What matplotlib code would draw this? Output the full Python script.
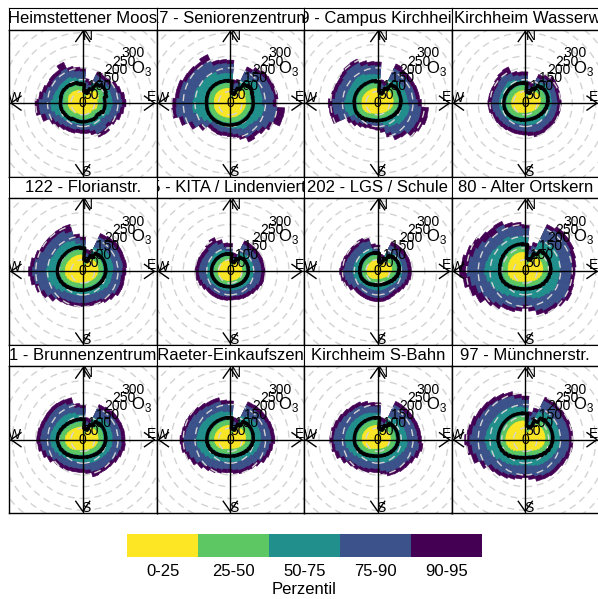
import numpy as np
import matplotlib
matplotlib.use("Agg")
import matplotlib.pyplot as plt
from matplotlib.patches import Wedge, Circle

plt.rcParams["font.family"] = ["Liberation Sans", "DejaVu Sans"]
plt.rcParams["mathtext.fontset"] = "custom"
plt.rcParams["mathtext.rm"] = "Liberation Sans"

# wind direction bins (deg, clockwise from north)
DIRS = list(range(0, 360, 10))
PERC_LABELS = ["0-25", "25-50", "50-75", "75-90", "90-95"]
PERC_COLORS = ["#FDE725", "#5DC863", "#21908C", "#3B528B", "#440154"]
RINGS = [50, 100, 150, 200, 250, 300, 350, 400]
RLABELS = [0, 50, 100, 150, 200, 250, 300]

TITLES = ["Heimstettener Moos", "17 - Seniorenzentrum", "19 - Campus Kirchheim",
          "Kirchheim Wasserwerk", "122 - Florianstr.", "15 - KITA / Lindenviertel",
          "202 - LGS / Schule", "80 - Alter Ortskern", "1 - Brunnenzentrum",
          "33 - Raeter-Einkaufszentrum", "Kirchheim S-Bahn", "97 - Münchnerstr."]

# --- Heimstettener Moos
HEIM_P25 = [47,28,25,38,66,74,74,70,62,62,62,62,54,48,52,50,48,48,48,48,47,47,53,55,57,60,62,62,62,64,66,64,63,59,58,52]
HEIM_P50 = [68,40,36,56,88,96,96,92,83,83,83,82,74,68,72,70,68,68,68,68,67,67,74,76,78,82,83,83,83,85,86,85,84,80,79,72]
HEIM_P75 = [101,64,58,95,110,116,123,124,124,126,122,119,109,101,108,107,96,91,91,90,92,93,99,104,110,124,135,136,128,125,121,122,121,122,113,105]
HEIM_P90 = [133,88,80,132,130,133,147,153,163,167,160,153,142,133,142,143,123,113,112,111,116,117,122,131,140,164,185,186,171,162,154,157,156,162,145,137]
HEIM_P95 = [150,105,95,150,147,150,164,170,180,184,177,170,159,150,162,160,140,130,129,128,133,134,139,148,157,184,203,203,188,179,171,174,173,192,162,154]
HEIM_MEAN = [80,50,45,68,101,110,110,105,95,95,95,95,86,80,84,82,80,80,80,80,79,79,86,88,90,94,95,96,95,98,99,97,96,92,91,84]

# --- Seniorenzentrum
SENI_P25 = [62,25,22,40,67,75,72,67,65,65,65,64,62,62,61,61,61,60,61,61,62,63,65,67,68,69,68,68,69,70,71,70,69,67,65,64]
SENI_P50 = [83,36,32,58,88,96,93,88,86,86,86,85,83,83,82,82,82,81,82,82,83,84,86,88,89,90,89,89,90,91,92,91,90,88,86,85]
SENI_P75 = [125,59,59,106,129,138,138,136,137,134,144,142,134,126,121,122,113,108,105,103,105,104,104,119,134,150,161,159,155,155,150,148,145,145,130,128]
SENI_P90 = [166,83,88,153,168,178,181,183,187,180,200,198,183,168,158,160,143,133,126,123,126,123,121,148,178,208,232,228,218,217,206,204,199,200,173,170]
SENI_P95 = [183,100,105,170,185,195,198,200,204,197,233,231,200,185,175,183,160,150,143,140,143,140,138,165,195,225,250,245,235,234,223,221,216,228,190,187]
SENI_MEAN = [95,45,40,70,100,108,105,100,98,98,98,97,95,95,94,94,94,93,94,94,95,96,98,100,101,102,101,101,102,103,104,103,102,100,98,97]

# --- Campus Kirchheim
CAMP_P25 = [59,26,22,40,65,69,69,67,67,65,63,60,55,51,48,46,44,43,43,44,46,49,55,60,64,67,67,67,68,68,67,66,65,64,64,63]
CAMP_P50 = [80,38,33,58,86,90,90,88,88,86,84,81,76,72,68,66,64,63,63,64,66,70,76,81,85,88,88,88,89,89,88,87,86,85,85,84]
CAMP_P75 = [120,60,55,111,123,125,125,125,126,128,135,134,130,127,115,112,99,86,81,80,81,86,93,102,109,132,140,141,137,135,133,135,138,137,128,123]
CAMP_P90 = [158,83,78,162,159,159,159,161,162,169,185,186,182,180,160,156,133,108,98,95,95,101,109,121,132,175,190,193,183,179,176,182,188,188,170,161]
CAMP_P95 = [175,100,95,184,176,176,176,178,179,186,217,219,210,203,177,173,150,125,115,112,112,118,126,138,149,206,208,211,200,196,193,199,205,207,187,178]
CAMP_MEAN = [92,48,42,70,98,102,102,100,100,98,96,93,88,84,80,78,76,75,75,76,78,82,88,93,97,100,100,100,101,101,100,99,98,97,97,96]

# --- Kirchheim Wasserwerk
WASS_P25 = [52,27,25,40,59,65,67,67,65,63,59,55,51,47,44,42,40,40,40,41,42,45,49,52,55,57,58,58,58,58,57,57,56,56,55,54]
WASS_P50 = [73,38,35,58,80,86,88,88,86,84,80,76,72,68,65,62,60,60,60,61,63,66,70,73,76,78,79,79,79,79,78,78,77,77,76,75]
WASS_P75 = [95,56,53,89,107,115,114,113,111,111,108,106,103,100,97,97,95,92,90,90,92,93,97,100,103,107,110,111,110,110,109,111,114,109,100,97]
WASS_P90 = [116,75,71,118,132,142,139,136,135,136,135,134,133,130,128,131,128,123,119,118,119,119,123,126,129,135,140,142,140,139,138,143,149,140,123,117]
WASS_P95 = [133,92,88,135,149,159,156,153,152,153,152,151,150,147,145,148,149,140,136,135,136,136,140,143,146,152,157,159,157,156,155,160,166,170,140,134]
WASS_MEAN = [85,48,45,70,92,98,100,100,98,96,92,88,84,80,77,74,72,72,72,73,75,78,82,85,88,90,91,91,91,91,90,90,89,89,88,87]

# --- Florianstr.
FLOR_P25 = [67,28,24,45,62,66,67,67,66,65,63,60,57,54,51,49,47,47,47,48,50,53,57,62,67,71,74,75,75,75,74,73,73,72,72,71]
FLOR_P50 = [88,40,35,63,83,87,88,88,87,86,84,81,78,75,72,70,68,68,68,69,71,74,78,83,88,92,95,96,96,96,95,94,94,93,93,92]
FLOR_P75 = [110,59,55,113,125,129,130,129,130,127,124,124,122,115,109,104,101,101,101,103,104,107,111,124,135,144,152,156,152,146,141,141,141,141,135,118]
FLOR_P90 = [131,78,75,161,166,170,170,169,171,167,163,165,164,153,145,137,133,133,133,135,136,139,143,163,181,194,207,214,207,195,186,186,186,188,175,143]
FLOR_P95 = [148,95,92,178,183,187,187,186,188,184,180,182,181,170,162,154,150,150,150,152,153,156,160,180,198,211,224,231,224,212,203,203,203,205,207,160]
FLOR_MEAN = [100,50,45,75,95,99,100,100,99,98,96,93,90,87,84,82,80,80,80,81,83,86,90,95,100,104,107,108,108,108,107,106,106,105,105,104]

# --- KITA / Lindenviertel
KITA_P25 = [48,22,21,35,47,50,51,51,50,50,49,47,45,43,42,40,39,39,39,40,41,42,45,47,49,51,52,52,52,52,51,51,50,50,49,48]
KITA_P50 = [64,33,31,49,63,66,67,67,66,66,65,63,61,59,57,55,54,54,54,55,56,58,61,63,65,67,69,69,69,69,68,68,67,67,66,65]
KITA_P75 = [83,47,45,88,95,97,98,99,99,99,98,97,92,89,85,83,81,80,80,81,83,84,86,87,92,96,100,101,100,99,97,97,100,101,95,85]
KITA_P90 = [102,63,61,127,127,127,129,130,131,131,130,130,123,118,113,111,108,105,105,107,109,110,111,111,118,125,131,133,131,129,126,125,133,135,123,105]
KITA_P95 = [119,80,78,144,144,144,146,147,148,148,147,147,140,135,130,128,125,122,122,124,126,127,128,128,135,142,148,150,148,146,143,142,150,159,140,122]
KITA_MEAN = [75,42,40,60,74,77,78,78,77,77,76,74,72,70,68,66,65,65,65,66,67,69,72,74,76,78,80,80,80,80,79,79,78,78,77,76]

# --- LGS / Schule
LGS_P25 = [48,21,20,35,52,57,60,61,60,57,53,48,43,38,35,33,32,31,31,32,33,35,37,40,42,44,45,46,46,47,48,48,48,49,49,48]
LGS_P50 = [66,31,29,51,72,78,81,82,81,78,74,68,62,56,52,49,47,46,46,47,48,51,54,57,60,63,64,65,65,66,67,68,68,69,69,68]
LGS_P75 = [81,44,41,87,98,102,104,105,104,103,101,95,89,83,79,79,79,80,80,80,80,81,82,84,92,100,103,106,104,103,102,102,101,104,102,85]
LGS_P90 = [95,58,55,122,123,124,125,126,126,126,126,121,115,109,105,107,110,112,112,111,110,109,109,109,123,135,141,145,141,138,135,134,133,138,133,101]
LGS_P95 = [112,75,72,139,140,141,142,143,143,143,143,138,132,126,122,124,127,129,129,128,127,126,126,126,140,152,158,162,158,155,152,151,150,155,150,118]
LGS_MEAN = [78,40,38,62,84,90,93,94,93,90,86,80,74,68,64,61,59,58,58,59,60,63,66,69,72,75,76,77,77,78,79,80,80,81,81,80]

# --- Alter Ortskern
ALTO_P25 = [80,30,28,52,74,78,78,77,76,74,70,66,61,56,51,47,44,42,42,43,45,48,53,58,64,69,72,73,74,76,78,80,82,83,83,82]
ALTO_P50 = [101,44,42,72,95,99,99,98,97,95,91,87,82,77,72,68,65,63,63,64,66,70,75,81,87,92,95,96,97,99,101,103,105,106,106,105]
ALTO_P75 = [144,69,76,139,155,157,156,153,150,146,143,143,143,136,129,126,119,109,102,109,114,117,128,137,146,156,166,173,171,166,163,157,154,163,154,150]
ALTO_P90 = [183,93,111,203,212,213,211,205,200,195,193,197,201,193,183,182,172,153,140,153,161,163,178,191,203,218,235,248,242,231,222,208,201,218,199,193]
ALTO_P95 = [200,110,128,220,232,230,228,222,217,212,210,214,218,210,200,201,191,170,157,170,178,180,195,208,233,248,265,279,272,261,252,238,231,235,216,210]
ALTO_MEAN = [115,55,52,85,108,112,112,111,110,108,104,100,95,90,85,80,77,75,75,76,78,82,88,94,100,105,108,109,110,112,114,116,118,119,119,118]

# --- Brunnenzentrum
BRUN_P25 = [54,25,22,42,62,66,67,67,66,65,63,60,57,53,49,46,44,42,42,43,45,49,54,60,65,70,73,75,74,71,67,63,60,57,56,55]
BRUN_P50 = [75,37,33,60,83,87,88,88,87,86,84,81,78,74,70,67,65,63,63,64,66,70,75,81,86,91,94,96,95,92,88,84,81,78,77,76]
BRUN_P75 = [105,58,54,105,119,123,124,125,126,125,125,121,116,111,108,106,103,96,94,94,96,100,105,109,119,128,135,138,137,133,130,129,128,125,119,108]
BRUN_P90 = [133,78,75,148,153,158,159,161,163,163,165,159,153,146,144,143,140,128,123,123,125,129,133,136,151,164,175,179,177,173,171,172,173,171,160,138]
BRUN_P95 = [150,95,92,165,170,175,176,178,180,180,182,176,170,163,161,160,164,145,140,140,142,146,150,153,168,181,192,196,194,190,188,189,190,188,185,155]
BRUN_MEAN = [87,48,44,72,95,99,100,100,99,98,96,93,90,86,82,79,77,75,75,76,78,82,87,93,98,103,106,108,107,104,100,96,93,90,89,88]

# --- Raeter-Einkaufszentrum
RAET_P25 = [61,25,22,42,63,66,67,67,66,65,62,58,53,48,44,41,39,37,37,38,40,44,49,54,59,63,66,67,67,67,66,65,64,63,62,62]
RAET_P50 = [82,37,33,60,84,87,88,88,87,86,83,79,74,69,65,62,60,58,58,59,61,65,70,75,80,84,87,88,88,88,87,86,85,84,83,83]
RAET_P75 = [116,58,54,111,124,126,128,129,130,130,125,121,115,107,101,98,97,94,91,93,97,102,108,116,126,134,141,143,140,139,137,133,130,127,126,119]
RAET_P90 = [148,78,75,161,163,164,166,169,171,173,166,161,155,143,136,133,133,128,123,125,131,138,145,156,171,183,193,197,191,188,185,179,173,168,168,153]
RAET_P95 = [165,95,92,178,180,181,183,186,188,190,183,178,172,160,153,150,150,145,140,142,148,155,162,173,188,200,210,214,208,205,202,196,190,185,185,170]
RAET_MEAN = [94,48,44,72,96,99,100,100,99,98,95,91,86,81,77,74,72,70,70,71,73,77,82,87,92,96,99,100,100,100,99,98,97,96,95,95]

# --- Kirchheim S-Bahn
SBAH_P25 = [61,25,22,38,53,55,55,55,54,54,53,51,48,45,42,40,38,37,37,38,40,44,49,54,59,63,66,67,67,67,66,65,64,63,62,62]
SBAH_P50 = [82,36,32,56,74,76,76,76,75,75,74,72,69,66,63,61,59,58,58,59,61,65,70,75,80,84,87,88,88,88,87,86,85,84,83,83]
SBAH_P75 = [112,58,54,110,119,120,120,121,122,123,126,121,114,109,107,104,102,96,91,92,95,100,105,110,120,129,136,138,137,134,131,128,125,123,119,114]
SBAH_P90 = [140,78,75,163,162,162,163,165,167,169,176,168,158,151,149,145,143,133,123,123,128,133,138,143,158,173,183,187,185,179,173,168,163,161,153,143]
SBAH_P95 = [157,95,92,180,179,179,180,182,184,186,193,185,175,168,166,162,160,150,140,140,145,150,155,160,175,190,200,204,202,196,190,185,180,178,170,160]
SBAH_MEAN = [94,48,44,68,86,88,88,88,87,87,86,84,81,78,75,73,71,70,70,71,73,77,82,87,92,96,99,100,100,100,99,98,97,96,95,95]

# --- Muenchnerstr.
MUEN_P25 = [79,32,30,57,79,84,85,85,85,84,81,77,71,64,57,52,47,44,44,45,48,53,60,67,73,78,81,83,83,83,83,83,83,83,82,81]
MUEN_P50 = [100,46,43,78,100,105,106,106,106,105,102,98,92,85,78,73,68,65,65,66,69,74,81,88,94,99,102,104,104,104,104,104,104,104,103,102]
MUEN_P75 = [135,75,84,131,142,145,145,146,147,146,145,140,134,129,125,121,115,110,106,109,114,120,127,133,147,158,166,171,167,163,159,157,155,152,149,141]
MUEN_P90 = [169,103,123,183,183,183,183,185,186,186,186,181,175,171,171,168,160,153,145,151,158,165,171,177,198,216,228,236,228,220,213,209,205,199,193,178]
MUEN_P95 = [186,120,140,200,200,200,200,202,203,203,203,198,192,188,188,185,183,170,162,168,175,182,188,194,215,238,250,258,249,240,232,228,224,218,212,195]
MUEN_MEAN = [112,58,55,90,112,117,118,118,118,117,114,110,104,97,90,85,80,77,77,78,81,86,93,100,106,111,114,116,116,116,116,116,116,116,115,114]

STATIONS = [
    (HEIM_P25, HEIM_P50, HEIM_P75, HEIM_P90, HEIM_P95, HEIM_MEAN),
    (SENI_P25, SENI_P50, SENI_P75, SENI_P90, SENI_P95, SENI_MEAN),
    (CAMP_P25, CAMP_P50, CAMP_P75, CAMP_P90, CAMP_P95, CAMP_MEAN),
    (WASS_P25, WASS_P50, WASS_P75, WASS_P90, WASS_P95, WASS_MEAN),
    (FLOR_P25, FLOR_P50, FLOR_P75, FLOR_P90, FLOR_P95, FLOR_MEAN),
    (KITA_P25, KITA_P50, KITA_P75, KITA_P90, KITA_P95, KITA_MEAN),
    (LGS_P25, LGS_P50, LGS_P75, LGS_P90, LGS_P95, LGS_MEAN),
    (ALTO_P25, ALTO_P50, ALTO_P75, ALTO_P90, ALTO_P95, ALTO_MEAN),
    (BRUN_P25, BRUN_P50, BRUN_P75, BRUN_P90, BRUN_P95, BRUN_MEAN),
    (RAET_P25, RAET_P50, RAET_P75, RAET_P90, RAET_P95, RAET_MEAN),
    (SBAH_P25, SBAH_P50, SBAH_P75, SBAH_P90, SBAH_P95, SBAH_MEAN),
    (MUEN_P25, MUEN_P50, MUEN_P75, MUEN_P90, MUEN_P95, MUEN_MEAN),
]

W, H = 598, 599
PX = 0.235            # pixels per concentration unit
fig = plt.figure(figsize=(W / 100, H / 100), dpi=100)


def fax(x0, y0, w, h):
    """axes from pixel box (top-left origin)"""
    return fig.add_axes([x0 / W, 1 - (y0 + h) / H, w / W, h / H])


def rose(ax, data, hw, hh):
    p25, p50, p75, p90, p95, mean = data
    u = 1 / PX
    ax.set_xlim(-hw * u, hw * u)
    ax.set_ylim(-hh * u, hh * u)
    # percentile sectors, outer band first
    for vals, col in zip([p95, p90, p75, p50, p25], PERC_COLORS[::-1]):
        for d, r in zip(DIRS, vals):
            ax.add_patch(Wedge((0, 0), r, 90 - d - 5, 90 - d + 5, facecolor=col,
                               edgecolor=col, lw=0.4, zorder=1))
    for r in RINGS:
        ax.add_patch(Circle((0, 0), r, fill=False, ec="#d3d3d3", lw=1.0,
                            ls=(0, (5, 3.5)), zorder=2))
    s45 = np.sin(np.pi / 4)
    for r in RLABELS:
        ax.text(r * s45, r * s45, str(r), fontsize=10, ha="center", va="center",
                zorder=3, clip_on=True)
    ax.text(48 * u, 35 * u, "O$_3$", fontsize=12, ha="left", va="center",
            zorder=3, clip_on=True)
    # axis cross
    ax.plot([-hw * u, hw * u], [0, 0], color="black", lw=1, zorder=3.5)
    ax.plot([0, 0], [-hh * u, hh * u], color="black", lw=1, zorder=3.5)
    # mean line, stepped
    xs, ys = [], []
    for d, m in zip(DIRS, mean):
        th = np.radians(np.linspace(d - 5, d + 5, 6))
        xs.extend(m * np.sin(th)); ys.extend(m * np.cos(th))
    xs.append(xs[0]); ys.append(ys[0])
    ax.plot(xs, ys, color="black", lw=2.4, solid_joinstyle="round", zorder=4)
    # compass arrows
    a, b = 7 * u, 10 * u
    t = hh * u - 2 * u
    ax.plot([-a, 0, a], [t - b, t, t - b], color="black", lw=1, zorder=5, clip_on=False)
    ax.plot([-a, 0, a], [-t + b, -t, -t + b], color="black", lw=1, zorder=5, clip_on=False)
    l = hw * u - 2 * u
    ax.plot([-l + b, -l, -l + b], [a, 0, -a], color="black", lw=1, zorder=5, clip_on=False)
    ax.plot([l - b, l, l - b], [a, 0, -a], color="black", lw=1, zorder=5, clip_on=False)
    kw = dict(fontsize=10, ha="center", va="center", zorder=5, clip_on=True)
    ax.text(5.5 * u, hh * u - 7 * u, "N", **kw)
    ax.text(3.5 * u, -hh * u + 5 * u, "S", **kw)
    ax.text(-hw * u + 6 * u, 4.7 * u, "W", **kw)
    ax.text(hw * u - 5 * u, 6 * u, "E", **kw)
    ax.set_xticks([]); ax.set_yticks([])
    for sp in ax.spines.values():
        sp.set_linewidth(1.0)


x_left, pw = 9.0, 147.5
strip_h, panel_h, pitch, top0 = 21.2, 147.2, 168.3, 8.3
for i, data in enumerate(STATIONS):
    row, col = divmod(i, 4)
    x0 = x_left + col * pw
    sy = top0 + row * pitch
    sax = fax(x0, sy, pw, strip_h)
    sax.set_xlim(0, 1); sax.set_ylim(0, 1)
    sax.set_xticks([]); sax.set_yticks([])
    if i == 3:
        sax.text(0.015, 0.5, TITLES[i], fontsize=12, ha="left", va="center", clip_on=True)
    else:
        sax.text(0.5, 0.5, TITLES[i], fontsize=12, ha="center", va="center", clip_on=True)
    pax = fax(x0, sy + strip_h, pw, panel_h)
    rose(pax, data, pw / 2, panel_h / 2)

# colour key
cax = fax(127.3, 534, 354.4, 22.7)
cax.bar(range(len(PERC_LABELS)), [1] * len(PERC_LABELS), width=1.0, align="edge",
        color=PERC_COLORS, lw=0)
cax.set_xlim(0, len(PERC_LABELS)); cax.set_ylim(0, 1)
cax.axis("off")
for k, lab in enumerate(PERC_LABELS):
    fig.text((127.3 + 354.4 * (k + 0.5) / 5) / W, 1 - 571.7 / H, lab,
             fontsize=12, ha="center", va="center")
fig.text((127.3 + 354.4 / 2) / W, 1 - 590 / H, "Perzentil", fontsize=12,
         ha="center", va="center")

fig.savefig("out.png", dpi=100)
